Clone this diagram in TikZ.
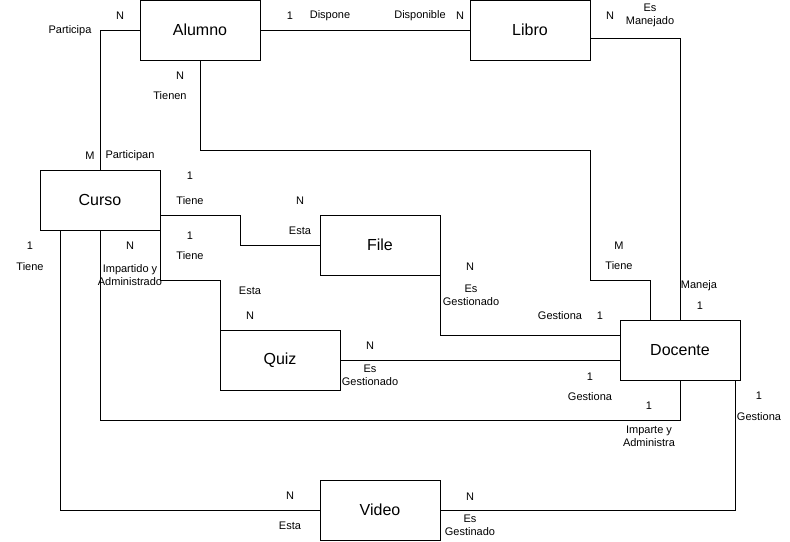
\documentclass[tikz,border=0pt]{standalone}
\usepackage{fontspec}
\setmainfont{Liberation Sans}
\usepackage{tikz}

\begin{document}
\begin{tikzpicture}[
    x=1pt, y=-1pt,
    entidad/.style={draw, line width=1pt, minimum width=120pt, minimum height=60pt,
      inner sep=0pt, outer sep=0pt, font=\fontsize{16}{19}\selectfont},
    etiqueta/.style={inner sep=1pt, align=center, font=\fontsize{11}{13}\selectfont},
    enlace/.style={line width=1pt}]
    \useasboundingbox (0,0) rectangle (790,541);
    % entidades
    \node[entidad] (alumno) at (200,30) {Alumno};
    \node[entidad] (libro) at (530,30) {Libro};
    \node[entidad] (curso) at (100,200) {Curso};
    \node[entidad] (file) at (380,245) {File};
    \node[entidad] (quiz) at (280,360) {Quiz};
    \node[entidad] (docente) at (680,350) {Docente};
    \node[entidad] (video) at (380,510) {Video};
    % relaciones
    \draw[enlace] (alumno.east) -- (libro.west);
    \draw[enlace] (alumno.west) -| (curso.north);
    \draw[enlace] (alumno.south) |- (590,150) -- (590,280) -| ([xshift=-30pt]docente.north);
    \draw[enlace] ([yshift=-8pt]libro.east) -| (docente.north);
    \draw[enlace] ([yshift=-15pt]curso.east) -| (240,245) -- (file.west);
    \draw[enlace] (curso.south east) |- (220,280) -- (quiz.north west);
    \draw[enlace] (curso.south) |- (680,420) -- (docente.south);
    \draw[enlace] ([xshift=-40pt]curso.south) |- (video.west);
    \draw[enlace] (quiz.east) -- (quiz.east -| docente.west);
    \draw[enlace] (file.south east) |- ([yshift=15pt]docente.west);
    \draw[enlace] ([xshift=-5pt]docente.south east) |- (video.east);
    % cardinalidades y roles
    \node[etiqueta] (alUno) at (290,16) {1};
    \node[etiqueta] (alDispone) at (330,16) {Dispone};
    \node[etiqueta] (liDisponible) at (420,16) {Disponible};
    \node[etiqueta] (liN) at (460,16) {N};
    \node[etiqueta] (alN) at (120,16) {N};
    \node[etiqueta] (alParticipa) at (70,31) {Participa};
    \node[etiqueta] (cuM) at (90,156) {M};
    \node[etiqueta] (cuParticipan) at (130,156) {Participan};
    \node[etiqueta] (alTienenN) at (180,76) {N};
    \node[etiqueta] (alTienen) at (170,96) {Tienen};
    \node[etiqueta] (doM) at (619,246) {M};
    \node[etiqueta] (doTiene) at (619,266) {Tiene};
    \node[etiqueta] (liManN) at (610,16) {N};
    \node[etiqueta] (liManejado) at (650,15.5) {Es\\Manejado};
    \node[etiqueta] (doManeja) at (699,286) {Maneja};
    \node[etiqueta] (doManUno) at (700,306) {1};
    \node[etiqueta] (cuFileUno) at (190,176) {1};
    \node[etiqueta] (cuFileTiene) at (190,201) {Tiene};
    \node[etiqueta] (fiN) at (300,201) {N};
    \node[etiqueta] (fiEsta) at (300,231) {Esta};
    \node[etiqueta] (cuQuizUno) at (190,236) {1};
    \node[etiqueta] (cuQuizTiene) at (190,256) {Tiene};
    \node[etiqueta] (quEsta) at (250,291) {Esta};
    \node[etiqueta] (quN) at (250,316) {N};
    \node[etiqueta] (cuDoN) at (130,246) {N};
    \node[etiqueta] (cuImpartido) at (130,275.5) {Impartido y\\Administrado};
    \node[etiqueta] (doImpUno) at (649,406) {1};
    \node[etiqueta] (doImparte) at (649,436) {Imparte y\\Administra};
    \node[etiqueta] (quDoN) at (370,346) {N};
    \node[etiqueta] (quGestionado) at (370,375.5) {Es\\Gestionado};
    \node[etiqueta] (doQuUno) at (590,377) {1};
    \node[etiqueta] (doQuGestiona) at (590,397) {Gestiona};
    \node[etiqueta] (fiDoN) at (470,267) {N};
    \node[etiqueta] (fiGestionado) at (471,295.5) {Es\\Gestionado};
    \node[etiqueta] (doFiGestiona) at (560,316) {Gestiona};
    \node[etiqueta] (doFiUno) at (600,316) {1};
    \node[etiqueta] (cuViUno) at (30,246) {1};
    \node[etiqueta] (cuViTiene) at (30,267) {Tiene};
    \node[etiqueta] (viN) at (290,496) {N};
    \node[etiqueta] (viEsta) at (290,526) {Esta};
    \node[etiqueta] (doViUno) at (759,396) {1};
    \node[etiqueta] (doViGestiona) at (759,417) {Gestiona};
    \node[etiqueta] (viDoN) at (470,497) {N};
    \node[etiqueta] (viGestinado) at (470,525.5) {Es\\Gestinado};
\end{tikzpicture}
\end{document}
